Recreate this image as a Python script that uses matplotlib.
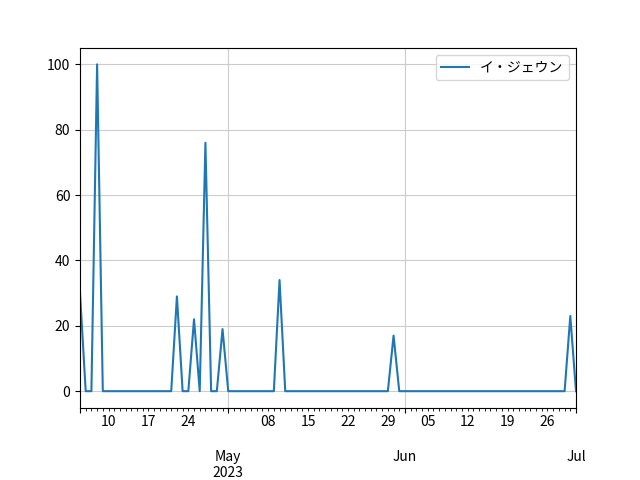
import matplotlib
matplotlib.use("Agg")
import matplotlib.pyplot as plt
import pandas as pd

plt.rcParams['font.family'] = ['Noto Sans CJK JP', 'DejaVu Sans']

start_date = "2023-04-05"
end_date = "2023-07-01"
series_name = "イ・ジェウン"

april = [30, 0, 0, 100, 0, 0, 0, 0, 0, 0, 0, 0, 0, 0, 0, 0, 0,
         29, 0, 0, 22, 0, 76, 0, 0, 19]
may = [0, 0, 0, 0, 0, 0, 0, 0, 0, 34,
       0, 0, 0, 0, 0, 0, 0, 0, 0, 0, 0, 0, 0, 0, 0, 0, 0, 0, 0,
       17, 0]
june = [0] * 29 + [23]
july = [0]

values = april + may + june + july
dates = pd.date_range(start_date, end_date, freq="D")
s = pd.Series(values, index=dates, name=series_name)

fig, ax = plt.subplots(figsize=(6.4, 4.8), dpi=100)
fig.subplots_adjust(left=0.125, right=0.9, top=0.9, bottom=0.151)
s.plot(ax=ax, color="#1f77b4", legend=True)
ax.grid(True, color="#cccccc")
ax.legend(loc="upper right")
fig.savefig("out.png", dpi=100)
